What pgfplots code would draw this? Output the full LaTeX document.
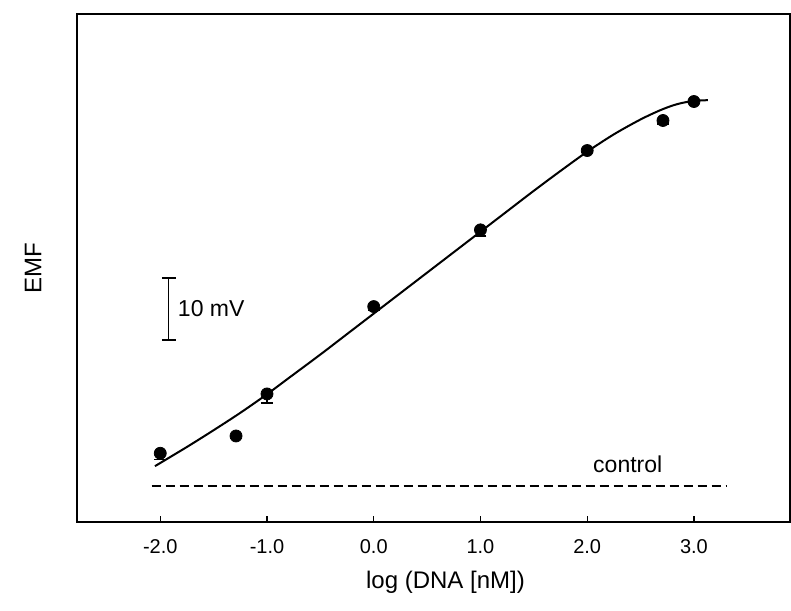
\documentclass[border=0pt]{standalone}
\usepackage{pgfplots}
\pgfplotsset{compat=1.18}
\usepackage{fontspec}
\setmainfont{Liberation Sans}

\begin{document}
\begin{tikzpicture}
\begin{axis}[
    width=356.5pt, height=254pt,
    scale only axis,
    xmin=-2.78, xmax=3.9,
    ymin=0, ymax=81.9,
    axis line style={line width=0.8pt},
    xtick={-2,-1,0,1,2,3},
    xticklabels={-2.0,-1.0,0.0,1.0,2.0,3.0},
    xtick pos=bottom,
    tick align=inside,
    major tick length=3pt,
    tick style={line width=0.7pt, black},
    ytick=\empty,
    xticklabel style={font=\fontsize{10}{12}\selectfont, yshift=-5pt},
    clip=false,
]
% fitted curve
\addplot[black, line width=1pt, smooth] coordinates {
    (-2.05, 9.0) (-1.75, 12.1) (-1.5, 14.8) (-1.25, 17.6) (-1.0, 20.6)
    (-0.75, 23.8) (-0.5, 27.0) (-0.25, 30.3) (0, 33.6) (0.25, 36.9)
    (0.5, 40.2) (0.75, 43.5) (1.0, 46.8) (1.25, 50.1) (1.5, 53.4)
    (1.75, 56.6) (2.0, 59.7) (2.25, 62.5) (2.5, 64.9) (2.7, 66.5)
    (2.85, 67.4) (3.0, 67.9) (3.13, 68.0)
};
% data
\addplot[only marks, mark=*, mark size=3pt, black,
    error bars/.cd, y dir=minus, y explicit,
    error bar style={line width=0.8pt},
    error mark options={rotate=90, mark size=3pt, line width=0.8pt}]
coordinates {
    (-2.0, 11.08) -= (0, 1.0)
    (-1.29, 13.87) -= (0, 0.4)
    (-1.0, 20.65) -= (0, 1.5)
    (0.0, 34.73) -= (0, 0.6)
    (1.0, 47.10) -= (0, 1.0)
    (2.0, 59.89) -= (0, 0.3)
    (2.71, 64.73) -= (0, 0.6)
    (3.0, 67.79) -= (0, 0.3)
};
% control
\addplot[black, line width=1pt, dash pattern=on 4.5pt off 2.5pt] coordinates {
    (-2.08, 5.8) (3.31, 5.8)
};
\node[font=\fontsize{11.5}{13}\selectfont] at (axis cs:2.38, 9.35) {control};
% scale bar
\draw[line width=0.7pt] (axis cs:-1.92,29.35) -- (axis cs:-1.92,39.35);
\draw[line width=0.7pt] ([xshift=-3.5pt]axis cs:-1.92,29.35) -- ([xshift=3.5pt]axis cs:-1.92,29.35);
\draw[line width=0.7pt] ([xshift=-3.5pt]axis cs:-1.92,39.35) -- ([xshift=3.5pt]axis cs:-1.92,39.35);
\node[anchor=west, font=\fontsize{11.5}{13}\selectfont] at (axis cs:-1.9, 34.4) {10 mV};
% labels
\node[font=\fontsize{12}{14}\selectfont] at ([xshift=6pt,yshift=-30pt]axis description cs:0.5,0) {log (DNA [nM])};
\node[rotate=90, font=\fontsize{12}{14}\selectfont] at ([xshift=-22pt]axis description cs:0,0.5) {EMF};
\end{axis}
\path[use as bounding box] ([xshift=-38.5pt,yshift=-44pt]current axis.south west) rectangle ([xshift=0.5pt,yshift=7pt]current axis.north east);
\end{tikzpicture}
\end{document}
